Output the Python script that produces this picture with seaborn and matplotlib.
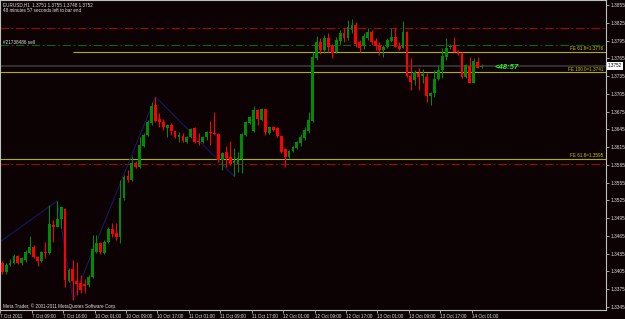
import numpy as np
import pandas as pd
import matplotlib
matplotlib.use("Agg")
import matplotlib.pyplot as plt
import matplotlib.transforms as mtransforms
import seaborn as sns

# ---------------- data (EURUSD H1) ----------------
opens = [1.3419, 1.3404, 1.3416, 1.3419, 1.3431, 1.3419, 1.3424, 1.3436, 1.3446, 1.3430,
         1.3423, 1.3438, 1.3436, 1.3484, 1.3480, 1.3494, 1.3511, 1.3389, 1.3409, 1.3389,
         1.3386, 1.3384, 1.3382, 1.3396, 1.3438, 1.3453, 1.3436, 1.3455, 1.3477, 1.3470,
         1.3463, 1.3529, 1.3566, 1.3559, 1.3588, 1.3581, 1.3617, 1.3636, 1.3656, 1.3686,
         1.3662, 1.3657, 1.3647, 1.3652, 1.3642, 1.3632, 1.3634, 1.3624, 1.3632, 1.3647,
         1.3625, 1.3624, 1.3632, 1.3641, 1.3639, 1.3637, 1.3593, 1.3607, 1.3598, 1.3588,
         1.3586, 1.3595, 1.3636, 1.3656, 1.3642, 1.3678, 1.3661, 1.3679, 1.3639, 1.3649,
         1.3647, 1.3634, 1.3612, 1.3598, 1.3608, 1.3613, 1.3622, 1.3630, 1.3642, 1.3659,
         1.3765, 1.3793, 1.3779, 1.3799, 1.3786, 1.3776, 1.3794, 1.3808, 1.3799, 1.3813,
         1.3821, 1.3793, 1.3786, 1.3799, 1.3809, 1.3794, 1.3788, 1.3779, 1.3784, 1.3794,
         1.3801, 1.3786, 1.3782, 1.3809, 1.3735, 1.3728, 1.3740, 1.3735, 1.3733, 1.3701,
         1.3706, 1.3730, 1.3745, 1.3767, 1.3784, 1.3788, 1.3777, 1.3774, 1.3733, 1.3752,
         1.3723, 1.3759, 1.3751]
highs = [1.3423, 1.3419, 1.3426, 1.3434, 1.3433, 1.3430, 1.3441, 1.3465, 1.3450, 1.3431,
         1.3440, 1.3455, 1.3517, 1.3492, 1.3524, 1.3516, 1.3512, 1.3411, 1.3424, 1.3421,
         1.3399, 1.3392, 1.3399, 1.3467, 1.3467, 1.3455, 1.3458, 1.3480, 1.3487, 1.3487,
         1.3559, 1.3568, 1.3576, 1.3600, 1.3592, 1.3632, 1.3639, 1.3661, 1.3691, 1.3700,
         1.3673, 1.3662, 1.3654, 1.3656, 1.3644, 1.3641, 1.3639, 1.3634, 1.3647, 1.3649,
         1.3639, 1.3634, 1.3642, 1.3659, 1.3674, 1.3639, 1.3607, 1.3617, 1.3625, 1.3613,
         1.3607, 1.3639, 1.3659, 1.3668, 1.3684, 1.3679, 1.3681, 1.3679, 1.3651, 1.3651,
         1.3649, 1.3636, 1.3613, 1.3610, 1.3617, 1.3625, 1.3637, 1.3649, 1.3674, 1.3776,
         1.3803, 1.3799, 1.3804, 1.3808, 1.3789, 1.3801, 1.3813, 1.3816, 1.3830, 1.3831,
         1.3826, 1.3796, 1.3808, 1.3816, 1.3813, 1.3799, 1.3793, 1.3788, 1.3799, 1.3816,
         1.3816, 1.3793, 1.3828, 1.3811, 1.3765, 1.3745, 1.3749, 1.3747, 1.3740, 1.3708,
         1.3745, 1.3754, 1.3782, 1.3799, 1.3789, 1.3801, 1.3779, 1.3776, 1.3755, 1.3767,
         1.3765, 1.3767, 1.3755]
lows = [1.3401, 1.3401, 1.3414, 1.3418, 1.3418, 1.3416, 1.3421, 1.3434, 1.3428, 1.3414,
        1.3421, 1.3428, 1.3434, 1.3455, 1.3480, 1.3478, 1.3379, 1.3387, 1.3357, 1.3365,
        1.3369, 1.3369, 1.3379, 1.3394, 1.3436, 1.3434, 1.3434, 1.3453, 1.3463, 1.3458,
        1.3453, 1.3526, 1.3556, 1.3558, 1.3580, 1.3580, 1.3615, 1.3634, 1.3652, 1.3657,
        1.3649, 1.3644, 1.3632, 1.3636, 1.3630, 1.3624, 1.3624, 1.3622, 1.3630, 1.3622,
        1.3619, 1.3622, 1.3627, 1.3619, 1.3636, 1.3590, 1.3576, 1.3581, 1.3585, 1.3566,
        1.3573, 1.3571, 1.3634, 1.3654, 1.3641, 1.3652, 1.3659, 1.3636, 1.3637, 1.3642,
        1.3632, 1.3605, 1.3581, 1.3597, 1.3607, 1.3612, 1.3617, 1.3627, 1.3639, 1.3657,
        1.3762, 1.3772, 1.3774, 1.3776, 1.3765, 1.3774, 1.3788, 1.3793, 1.3796, 1.3808,
        1.3784, 1.3776, 1.3781, 1.3796, 1.3788, 1.3779, 1.3770, 1.3767, 1.3782, 1.3793,
        1.3784, 1.3779, 1.3782, 1.3733, 1.3711, 1.3720, 1.3711, 1.3723, 1.3691, 1.3686,
        1.3700, 1.3728, 1.3731, 1.3762, 1.3781, 1.3776, 1.3770, 1.3731, 1.3731, 1.3723,
        1.3723, 1.3749, 1.3748]
closes = [1.3404, 1.3416, 1.3419, 1.3431, 1.3419, 1.3428, 1.3438, 1.3446, 1.3430, 1.3423,
          1.3438, 1.3436, 1.3485, 1.3480, 1.3494, 1.3514, 1.3391, 1.3408, 1.3389, 1.3384,
          1.3374, 1.3381, 1.3396, 1.3443, 1.3453, 1.3438, 1.3455, 1.3477, 1.3468, 1.3463,
          1.3529, 1.3565, 1.3559, 1.3588, 1.3581, 1.3619, 1.3636, 1.3657, 1.3684, 1.3659,
          1.3657, 1.3649, 1.3652, 1.3642, 1.3632, 1.3636, 1.3625, 1.3632, 1.3646, 1.3624,
          1.3624, 1.3632, 1.3641, 1.3639, 1.3637, 1.3593, 1.3605, 1.3597, 1.3586, 1.3592,
          1.3597, 1.3637, 1.3657, 1.3666, 1.3678, 1.3662, 1.3679, 1.3641, 1.3649, 1.3644,
          1.3634, 1.3607, 1.3598, 1.3608, 1.3615, 1.3624, 1.3632, 1.3644, 1.3661, 1.3767,
          1.3793, 1.3779, 1.3799, 1.3784, 1.3774, 1.3796, 1.3808, 1.3799, 1.3818, 1.3821,
          1.3789, 1.3782, 1.3803, 1.3809, 1.3793, 1.3786, 1.3779, 1.3784, 1.3796, 1.3801,
          1.3784, 1.3781, 1.3809, 1.3735, 1.3725, 1.3742, 1.3733, 1.3738, 1.3701, 1.3706,
          1.3730, 1.3745, 1.3769, 1.3782, 1.3786, 1.3776, 1.3772, 1.3733, 1.3754, 1.3723,
          1.3760, 1.3749, 1.3752]

x_tick_labels = ["7 Oct 2011", "7 Oct 09:00", "7 Oct 16:00", "10 Oct 01:00", "10 Oct 09:00",
                 "10 Oct 17:00", "11 Oct 01:00", "11 Oct 09:00", "11 Oct 17:00", "12 Oct 01:00",
                 "12 Oct 09:00", "12 Oct 17:00", "13 Oct 01:00", "13 Oct 09:00", "13 Oct 17:00",
                 "14 Oct 01:00"]
y_ticks = [1.3345, 1.3375, 1.3405, 1.3435, 1.3465, 1.3495, 1.3525, 1.3555, 1.3585, 1.3615,
           1.3645, 1.3675, 1.3705, 1.3735, 1.3765, 1.3795, 1.3825, 1.3855]

# ZigZag indicator turning points (bar index, price)
zigzag_idx = [-0.55, 14, 18, 39, 59]
zigzag_price = [1.3455, 1.3524, 1.3357, 1.3700, 1.3566]

# horizontal levels
red_levels = [1.3816, 1.3586]
order_level = 1.3787
fe_levels = [1.3776, 1.3741, 1.3595]
fe_labels = ["FE 61.8=1.3776", "FE 100.0=1.3741", "FE 61.8=1.3595"]
fe_start = [18, None, None]

header1 = "EURUSD,H1  1.3751 1.3755 1.3748 1.3752"
header2 = "48 minutes 57 seconds left to bar end"
order_label = "#21738486 sell"
timer_label = "<48:57"
copyright_label = "Meta Trader, \u00a9 2001-2011 MetaQuotes Software Corp."

# ---------------- styling ----------------
BG = "#0c0204"
BULL = "#008c00"
BEAR = "#ff0000"
FG = "#e0e0e0"

sns.set_theme(style="dark", rc={
    "axes.facecolor": BG, "figure.facecolor": BG,
    "axes.edgecolor": "#c0c0c0", "axes.grid": False,
})
plt.rcParams["font.family"] = ["Liberation Sans", "DejaVu Sans"]
plt.rcParams["lines.scale_dashes"] = False

df = pd.DataFrame({"open": opens, "high": highs, "low": lows, "close": closes})
df["idx"] = np.arange(len(df))
df["bull"] = df["close"] >= df["open"]
df["color"] = np.where(df["bull"], BULL, BEAR)
df["bottom"] = df[["open", "close"]].min(axis=1)
df["height"] = (df["close"] - df["open"]).abs().clip(lower=0.00013)

W, H = 625, 319
fig = plt.figure(figsize=(W / 100, H / 100), dpi=100)
ax = fig.add_axes([0, (H - 310) / H, 606 / W, 310 / H])
x0 = -0.55
x1 = x0 + 606 / 3.93
ax.set_xlim(x0, x1)
ax.set_ylim(1.33399, 1.38634)

# bid line
ax.axhline(closes[-1], color="#383838", lw=1.2, zorder=1)

# horizontal levels
for lv in red_levels:
    ax.axhline(lv, color="#b00000", lw=0.75, ls=(0, (6, 2, 1.2, 2)), zorder=1)
ax.axhline(order_level, color="#007000", lw=0.75, ls=(0, (6, 2, 1.2, 2)), zorder=1)
for lv, st in zip(fe_levels, fe_start):
    ax.hlines(lv, st if st is not None else x0, x1, color="#b0b000", lw=0.8, zorder=1)

# zigzag
sns.lineplot(x=zigzag_idx, y=zigzag_price, ax=ax, color="#18186a", lw=0.75,
             sort=False, estimator=None, zorder=2)

# candles
ax.vlines(df["idx"], df["low"], df["high"], colors=df["color"], lw=0.75, zorder=3)
ax.bar(df["idx"], df["height"], bottom=df["bottom"], width=0.72, color=df["color"],
       linewidth=0, zorder=4)

# spines
for s in ax.spines.values():
    s.set_color("#c0c0c0")
    s.set_linewidth(0.8)

# ticks
ax.set_yticks(y_ticks)
ax.set_yticklabels([f"{v:.4f}" for v in y_ticks])
ax.yaxis.tick_right()
ax.tick_params(axis="y", right=True, left=False, length=2, width=0.6, pad=1.2,
               colors="#c0c0c0", labelcolor=FG, labelsize=3.4)
ax.set_xticks([8 * k - 0.5 for k in range(len(x_tick_labels))])
ax.set_xticklabels(x_tick_labels)
ax.tick_params(axis="x", bottom=True, length=2, width=0.6, pad=0.6,
               colors="#c0c0c0", labelcolor=FG, labelsize=3.3)
for lab in ax.get_xticklabels():
    lab.set_ha("left")
ax.set_xlabel("")
ax.set_ylabel("")

# texts
bt = mtransforms.blended_transform_factory(ax.transAxes, ax.transData)
for lv, lab in zip(fe_levels, fe_labels):
    ax.text(0.996, lv + 0.00012, lab, transform=bt, ha="right", va="bottom",
            color="#c8c800", fontsize=3.3)
ax.text(495 / 606, 1.3750, timer_label, transform=bt, ha="left", va="center",
        color="#33ee33", fontsize=5.6, fontweight="bold", fontstyle="italic")
ax.text(608 / 606, closes[-1], f"{closes[-1]:.4f}", transform=bt, ha="left", va="center",
        color="black", fontsize=3.3,
        bbox=dict(boxstyle="square,pad=0.25", fc="white", ec="none"), clip_on=False)

fig.text(3 / W, 1 - 5 / H, header1, color=FG, fontsize=3.3, va="center", ha="left")
fig.text(3 / W, 1 - 10.5 / H, header2, color=FG, fontsize=3.3, va="center", ha="left")
fig.text(3 / W, 1 - 42.5 / H, order_label, color=FG, fontsize=3.3, va="center", ha="left")
fig.text(3 / W, 1 - 306.5 / H, copyright_label, color=FG, fontsize=3.3, va="center", ha="left")

fig.savefig("out.png", dpi=100, facecolor=BG)
